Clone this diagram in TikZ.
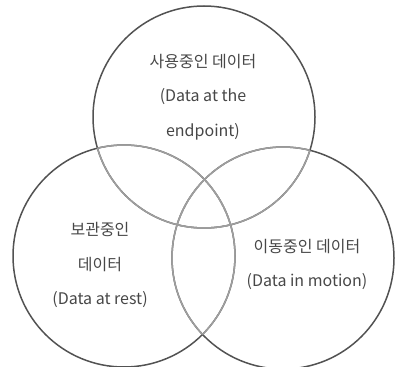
\documentclass[tikz,border=0pt]{standalone}
\usepackage{fontspec}
\setmainfont{Noto Sans CJK KR}
\begin{document}
\begin{tikzpicture}[x=1pt,y=-1pt,
  outer/.style={draw=black!68,line width=1.5pt},
  inner/.style={draw=black!38,line width=1.5pt},
  lbl/.style={text=black!72,font=\fontsize{16}{18}\selectfont,inner sep=0pt,anchor=center}]
\useasboundingbox (0,0) rectangle (395,366);
\coordinate (T) at (204,117);
\coordinate (L) at (124,256);
\coordinate (R) at (283,258);
\def\rad{111pt}
\draw[outer] (T) circle[radius=\rad];
\draw[outer] (L) circle[radius=\rad];
\draw[outer] (R) circle[radius=\rad];
\begin{scope}\clip (L) circle[radius=\rad]; \draw[inner] (T) circle[radius=\rad]; \draw[inner] (R) circle[radius=\rad];\end{scope}
\begin{scope}\clip (R) circle[radius=\rad]; \draw[inner] (T) circle[radius=\rad]; \draw[inner] (L) circle[radius=\rad];\end{scope}
\begin{scope}\clip (T) circle[radius=\rad]; \draw[inner] (L) circle[radius=\rad]; \draw[inner] (R) circle[radius=\rad];\end{scope}
\node[lbl] (t1) at (203,62) {사용중인 데이터};
\node[lbl] (t2) at (203,97) {(Data at the};
\node[lbl] (t3) at (203,132) {endpoint)};
\node[lbl] (l1) at (100,229) {보관중인};
\node[lbl] (l2) at (100,265) {데이터};
\node[lbl] (l3) at (100,300) {(Data at rest)};
\node[lbl] (r1) at (307,247) {이동중인 데이터};
\node[lbl] (r2) at (307,282) {(Data in motion)};
\end{tikzpicture}
\end{document}
